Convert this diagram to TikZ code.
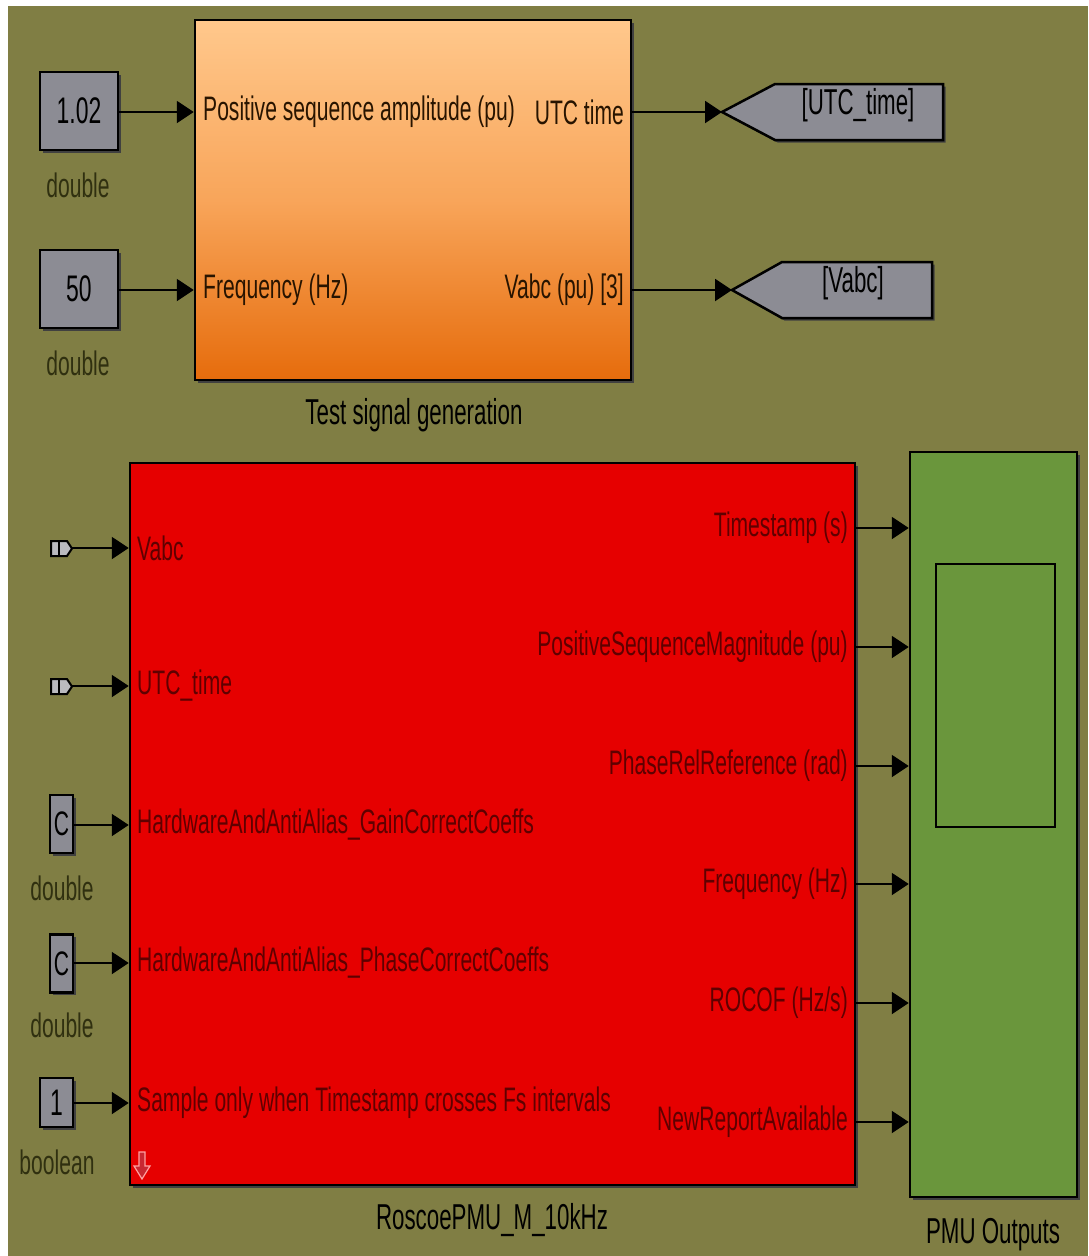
\documentclass[tikz,border=0pt]{standalone}
\usepackage{fontspec}
\setmainfont[FakeStretch=0.62]{Liberation Sans}
\usetikzlibrary{arrows.meta,shadows}
\definecolor{bgolive}{RGB}{128,126,68}
\definecolor{redblk}{RGB}{230,0,0}
\definecolor{redtxt}{RGB}{95,0,0}
\definecolor{scopegreen}{RGB}{106,150,60}
\definecolor{blkgray}{RGB}{140,140,148}
\definecolor{porttxt}{RGB}{40,20,0}
\definecolor{typetxt}{RGB}{48,48,16}
\definecolor{peach}{RGB}{255,200,140}
\definecolor{midorange}{RGB}{248,165,90}
\definecolor{deeporange}{RGB}{230,108,12}
\begin{document}
\begin{tikzpicture}[x=1pt,y=-1pt,
  txt/.style={font=\fontsize{34}{37}\selectfont, inner sep=0pt},
  namelbl/.style={font=\fontsize{36}{39}\selectfont, inner sep=0pt},
  inlbl/.style={txt, anchor=west},
  outlbl/.style={txt, anchor=east},
  typelbl/.style={txt, text=typetxt},
  arr/.style={line width=2pt, -{Triangle[length=17pt,width=22pt]}},
  shd/.style={general shadow={fill=black!75, shadow xshift=2.5pt, shadow yshift=-2.5pt}},
  constbox/.style={draw=black, line width=2.5pt, fill=blkgray, inner sep=0pt, shd,
    font=\fontsize{37}{40}\selectfont},
  cbox/.style={draw=black, line width=2.5pt, fill=blkgray, inner sep=0pt, shd,
    font=\fontsize{34}{36}\selectfont, minimum width=23pt, minimum height=58pt},
  gotoshape/.style={draw=black, line width=2.5pt, fill=blkgray, shd},
  inport/.style={draw=black, line width=2pt, fill=blkgray!60!white}
]
\useasboundingbox (0,0) rectangle (1088,1256);
\fill[white] (0,0) rectangle (1088,1256);
\fill[bgolive] (8,6) rectangle (1088,1256);

% ---------- Test signal generation ----------
\node[draw=black, line width=2.5pt, shd, top color=peach, bottom color=deeporange,
      middle color=midorange, minimum width=436pt, minimum height=360pt, inner sep=0pt]
      (tsg) at (413,200) {};
\node[namelbl] (tsglbl) at (414,415) {Test signal generation};
\node[inlbl, text=porttxt] (ti1) at (203,112) {Positive sequence amplitude (pu)};
\node[inlbl, text=porttxt] (ti2) at (203,290) {Frequency (Hz)};
\node[outlbl, text=porttxt] (to1) at (624,112) {UTC time};
\node[outlbl, text=porttxt] (to2) at (624,290) {Vabc (pu) [3]};

\node[constbox, minimum width=78pt, minimum height=78pt] (c1) at (79,111) {1.02};
\node[typelbl] (c1t) at (78,185) {double};
\node[constbox, minimum width=78pt, minimum height=78pt] (c2) at (79,289) {50};
\node[typelbl] (c2t) at (78,363) {double};

\draw[arr] (c1.east |- ti1) -- (tsg.west |- ti1);
\draw[arr] (c2.east |- ti2) -- (tsg.west |- ti2);

% goto tags
\draw[gotoshape] (722,112) -- (775,84) -- (943,84) -- (943,140) -- (775,140) -- cycle;
\coordinate (g1) at (722,112);
\node[namelbl] (g1lbl) at (858,105) {[UTC\_time]};
\draw[gotoshape] (732,290) -- (782,262) -- (932,262) -- (932,318) -- (782,318) -- cycle;
\coordinate (g2) at (732,290);
\node[namelbl] (g2lbl) at (853,283) {[Vabc]};

\draw[arr] (tsg.east |- to1) -- (g1);
\draw[arr] (tsg.east |- to2) -- (g2);

% ---------- RoscoePMU block ----------
\node[draw=black, line width=2.5pt, shd, fill=redblk, minimum width=725pt,
      minimum height=722pt, inner sep=0pt] (pmu) at (492.5,824) {};
\node[namelbl] (pmulbl) at (492,1220) {RoscoePMU\_M\_10kHz};

\node[inlbl, text=redtxt] (pi1) at (137,548) {Vabc};
\node[inlbl, text=redtxt] (pi2) at (137,686) {UTC\_time};
\node[inlbl, text=redtxt] (pi3) at (137,825) {HardwareAndAntiAlias\_GainCorrectCoeffs};
\node[inlbl, text=redtxt] (pi4) at (137,963) {HardwareAndAntiAlias\_PhaseCorrectCoeffs};
\node[inlbl, text=redtxt] (pi5) at (137,1103) {Sample only when Timestamp crosses Fs intervals};

\node[outlbl, text=redtxt] (po1) at (848,528) {Timestamp (s)};
\node[outlbl, text=redtxt] (po2) at (848,647) {PositiveSequenceMagnitude (pu)};
\node[outlbl, text=redtxt] (po3) at (848,766) {PhaseRelReference (rad)};
\node[outlbl, text=redtxt] (po4) at (848,884) {Frequency (Hz)};
\node[outlbl, text=redtxt] (po5) at (848,1003) {ROCOF (Hz/s)};
\node[outlbl, text=redtxt] (po6) at (848,1122) {NewReportAvailable};

% small down-arrow icon
\draw[draw={rgb,255:red,255;green,160;blue,160}, fill={rgb,255:red,200;green,40;blue,50}, line width=1.2pt]
  (139,1152) -- (145,1152) -- (145,1166) -- (150,1166) -- (142,1179) -- (134,1166) -- (139,1166) -- cycle;

% from-tags (inports)
\draw[inport] (51,541) -- (67,541) -- (72,548.5) -- (67,556) -- (51,556) -- cycle;
\draw[line width=1.5pt] (59,542) -- (59,555);
\coordinate (f1) at (72,548);
\draw[inport] (51,679) -- (67,679) -- (72,686.5) -- (67,694) -- (51,694) -- cycle;
\draw[line width=1.5pt] (59,680) -- (59,693);
\coordinate (f2) at (72,686);

\node[cbox] (c3) at (61.5,824) {C};
\node[typelbl] (c3t) at (62,888) {double};
\node[cbox] (c4) at (61.5,963.5) {C};
\node[typelbl] (c4t) at (62,1025) {double};
\node[constbox, minimum width=33pt, minimum height=49pt] (c5) at (56.5,1102.5) {1};
\node[typelbl] (c5t) at (57,1162) {boolean};

\draw[arr] (f1) -- (pmu.west |- pi1);
\draw[arr] (f2) -- (pmu.west |- pi2);
\draw[arr] (c3.east |- pi3) -- (pmu.west |- pi3);
\draw[arr] (c4.east |- pi4) -- (pmu.west |- pi4);
\draw[arr] (c5.east |- pi5) -- (pmu.west |- pi5);

% ---------- Scope ----------
\node[draw=black, line width=2.5pt, shd, fill=scopegreen, minimum width=167pt,
      minimum height=745pt, inner sep=0pt] (scope) at (993.5,824.5) {};
\node[draw=black, line width=2.5pt, fill=scopegreen, minimum width=119pt,
      minimum height=263pt, inner sep=0pt] (screen) at (995.5,695.5) {};
\node[namelbl] (scopelbl) at (993,1235) {PMU Outputs};

\foreach \i in {1,...,6} {
  \draw[arr] (pmu.east |- po\i) -- (scope.west |- po\i);
}
\end{tikzpicture}
\end{document}
